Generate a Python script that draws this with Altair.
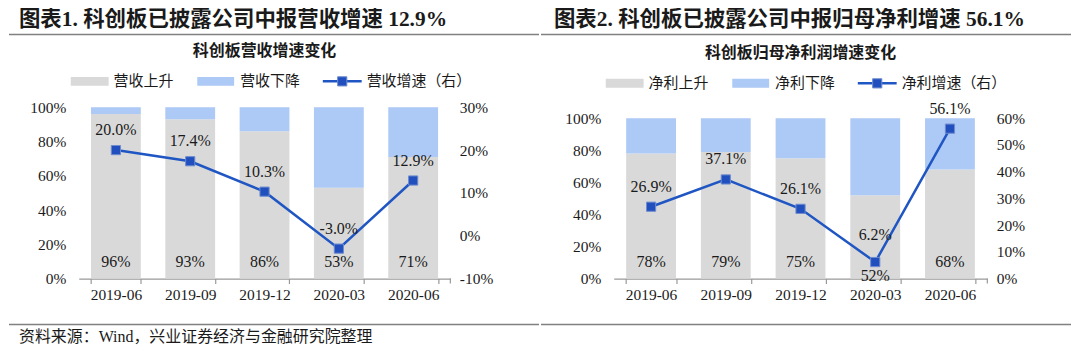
import altair as alt
import pandas as pd

FONT = "'Liberation Serif', 'Noto Sans CJK SC', serif"
TXT = "#1a1a1a"
GRAY = "#D9D9D9"
LBLUE = "#ADC9F5"
LINE = "#1F56C3"
RULE = "#808080"

categories = ["2019-06", "2019-09", "2019-12", "2020-03", "2020-06"]

rev_rise = [0.96, 0.93, 0.86, 0.53, 0.71]
rev_growth = [0.200, 0.174, 0.103, -0.030, 0.129]
rev_names = ["营收上升", "营收下降", "营收增速（右）"]
rev_header = "图表1. 科创板已披露公司中报营收增速 12.9%"
rev_subtitle = "科创板营收增速变化"
rev_right_ticks = [-0.1, 0.0, 0.1, 0.2, 0.3]

profit_rise = [0.78, 0.79, 0.75, 0.52, 0.68]
profit_growth = [0.269, 0.371, 0.261, 0.062, 0.561]
profit_names = ["净利上升", "净利下降", "净利增速（右）"]
profit_header = "图表2. 科创板已披露公司中报归母净利增速 56.1%"
profit_subtitle = "科创板归母净利润增速变化"
profit_right_ticks = [0.0, 0.1, 0.2, 0.3, 0.4, 0.5, 0.6]

left_ticks = [0.0, 0.2, 0.4, 0.6, 0.8, 1.0]
footer = "资料来源：Wind，兴业证券经济与金融研究院整理"

H = 172


def one(text):
    return pd.DataFrame({"t": [text]})


def text_mark(text, x, y, size, bold=False, align="left"):
    return alt.Chart(one(text)).mark_text(
        font=FONT, fontSize=size, fontWeight="bold" if bold else "normal",
        align=align, baseline="middle", color=TXT
    ).encode(x=alt.value(x), y=alt.value(y), text="t:N")


def rule_mark(x, x2, y, color=RULE, width=1.5):
    return alt.Chart(one("")).mark_rule(color=color, strokeWidth=width).encode(
        x=alt.value(x), x2=alt.value(x2), y=alt.value(y)
    )


def panel(rise, growth, names, header, subtitle, right_ticks, W, top,
          sub_y, leg_y, left_ext, right_ext, footer_y=None, special=None):
    bars_df = pd.DataFrame({
        "cat": categories * 2,
        "series": [names[0]] * 5 + [names[1]] * 5,
        "val": list(rise) + [1 - r for r in rise],
        "ord": [0] * 5 + [1] * 5,
    })
    line_df = pd.DataFrame({"cat": categories, "g": growth, "r": rise})

    xenc = alt.X("cat:N", sort=categories, title=None,
                 scale=alt.Scale(paddingInner=0.33, paddingOuter=0.165),
                 axis=alt.Axis(labelAngle=0, domainColor="#999999", tickColor="#999999",
                               tickSize=5, tickBand="extent", labelPadding=4,
                               domainWidth=1.2, tickWidth=1.2))
    xs = alt.X("cat:N", sort=categories)
    yleft = alt.Scale(domain=[0, 1], range=[H, top])
    yright = alt.Scale(domain=[right_ticks[0], right_ticks[-1]], range=[H, top])
    minus_fix = "replace(datum.label, '\u2212', '-')"

    bars = alt.Chart(bars_df).mark_bar(size=50).encode(
        x=xenc,
        y=alt.Y("val:Q", stack="zero", scale=yleft, title=None,
                axis=alt.Axis(values=left_ticks, format=".0%", domain=False, ticks=False,
                              grid=False, labelPadding=13, orient="left")),
        color=alt.Color("series:N", scale=alt.Scale(domain=names[:2], range=[GRAY, LBLUE]),
                        legend=None),
        order=alt.Order("ord:Q"),
    )
    base_lbl = alt.Chart(line_df).mark_text(font=FONT, fontSize=16, color=TXT, baseline="middle")
    if special:
        bar_lbl = base_lbl.transform_filter(alt.datum.cat != special).encode(
            x=xs, y=alt.value(H - 17), text=alt.Text("r:Q", format=".0%"))
        bar_lbl2 = base_lbl.transform_filter(alt.datum.cat == special).encode(
            x=xs, y=alt.value(H - 3), text=alt.Text("r:Q", format=".0%"))
        left_layer = alt.layer(bars, bar_lbl, bar_lbl2)
    else:
        bar_lbl = base_lbl.encode(x=xs, y=alt.value(H - 17), text=alt.Text("r:Q", format=".0%"))
        left_layer = alt.layer(bars, bar_lbl)

    yr = alt.Y("g:Q", scale=yright, title=None,
               axis=alt.Axis(values=right_ticks, format=".0%", domain=False, ticks=False,
                             grid=False, labelPadding=9, orient="right", labelExpr=minus_fix))
    line_base = alt.Chart(line_df).transform_calculate(
        lbl="replace(format(datum.g, '.1%'), '\u2212', '-')")
    line = line_base.mark_line(color=LINE, strokeWidth=2.5).encode(x=xs, y=yr)
    pts = line_base.mark_point(shape="square", filled=True, size=85, fill="#2150BE",
                               stroke="#6E8CCF", strokeWidth=1, opacity=1).encode(x=xs, y=yr)
    txt = dict(font=FONT, fontSize=16, color=TXT)
    if special:
        gl = line_base.transform_filter(alt.datum.cat != special).mark_text(dy=-20, **txt).encode(
            x=xs, y=yr, text="lbl:N")
        gl2 = line_base.transform_filter(alt.datum.cat == special).mark_text(dy=-27, **txt).encode(
            x=xs, y=yr, text="lbl:N")
        right_layer = alt.layer(line, pts, gl, gl2)
    else:
        gl = line_base.mark_text(dy=-20, **txt).encode(x=xs, y=yr, text="lbl:N")
        right_layer = alt.layer(line, pts, gl)

    deco = [
        text_mark(header, -60, -88, 21.5, bold=True),
        rule_mark(left_ext, right_ext, -73),
        text_mark(subtitle, W / 2, sub_y, 16, bold=True, align="center"),
        alt.Chart(one(names[0])).mark_rect(color=GRAY).encode(
            x=alt.value(-8), x2=alt.value(30), y=alt.value(leg_y - 4.5), y2=alt.value(leg_y + 4.5)),
        text_mark(names[0], 35, leg_y, 15),
        alt.Chart(one(names[1])).mark_rect(color=LBLUE).encode(
            x=alt.value(119), x2=alt.value(156), y=alt.value(leg_y - 4.5), y2=alt.value(leg_y + 4.5)),
        text_mark(names[1], 162, leg_y, 15),
        rule_mark(245, 284, leg_y, color=LINE, width=2.5),
        alt.Chart(one(names[2])).mark_point(shape="square", filled=True, size=85, fill="#2150BE",
                                            stroke="#6E8CCF", strokeWidth=1, opacity=1).encode(
            x=alt.value(264.5), y=alt.value(leg_y)),
        text_mark(names[2], 289, leg_y, 15),
        rule_mark(left_ext, right_ext, 218),
        # closing tick at the end of the x axis
        alt.Chart(one("")).mark_rule(color="#999999", strokeWidth=1.2).encode(
            x=alt.value(W), y=alt.value(H), y2=alt.value(H + 5)),
    ]
    if footer_y is not None:
        deco.append(text_mark(footer, -60, footer_y, 16))

    main = alt.layer(left_layer, right_layer).resolve_scale(y="independent")
    return alt.layer(main, *deco).properties(width=W, height=H)


left = panel(rev_rise, rev_growth, rev_names, rev_header, rev_subtitle, rev_right_ticks,
             W=373, top=0, sub_y=-56, leg_y=-26, left_ext=-70, right_ext=462, footer_y=231)
right = panel(profit_rise, profit_growth, profit_names, profit_header, profit_subtitle,
              profit_right_ticks, W=375, top=11, sub_y=-54, leg_y=-24,
              left_ext=-73, right_ext=459, special="2020-03")

chart = alt.hconcat(left, right, spacing=0).properties(padding=0).configure_view(
    stroke=None
).configure_axis(
    labelFont=FONT, labelFontSize=15.5, labelColor=TXT
)

chart.save("out.html", embed_options={"renderer": "svg", "actions": False})
